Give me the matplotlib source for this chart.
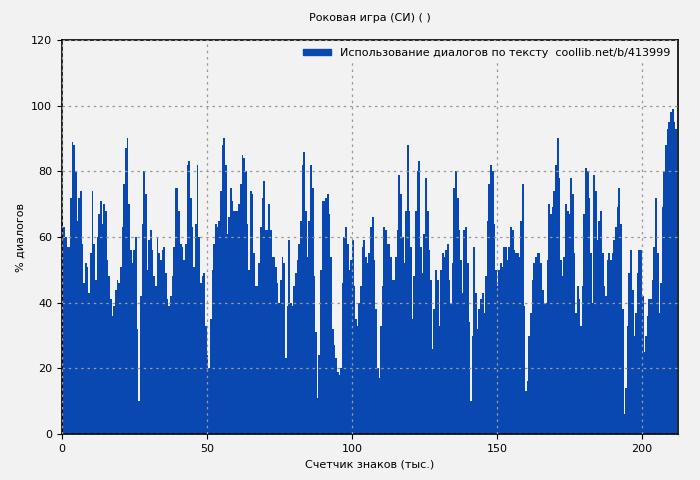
import numpy as np
import matplotlib
matplotlib.use("Agg")
import matplotlib.pyplot as plt
from matplotlib.patches import Patch

# values, segment by segment (each segment is a 110 px window)
seg1 = [66,63,60,57,57,72,89,88,80,65,72,74,58,46,52,51,43,55,74,58,47,60,67,71,64,70,68,53,48,41,36,39,44,47,46,51,63,76,87,90,70,56,52,56,60,32,10,42,64,80,73,50,59,62,56,48,45,60,55,53,56,57,49,41,39]
seg2 = [48,40,38,42,48,57,75,75,68,58,57,53,58,82,83,72,63,51,64,82,60,46,48,49,33,24,20,35,50,58,64,63,65,74,88,90,82,61,66,75,71,68,68,68,70,76,85,84,80,64,50,74,73,55,45,45,52,63,72,77,62,62,70,62,52,51]
seg3 = [56,54,54,51,46,40,47,54,52,23,39,59,40,39,45,49,53,58,65,82,86,68,54,65,82,75,48,31,11,24,50,71,71,72,73,67,54,32,27,23,19,18,20,46,60,63,58,50,53,59,45,35,33,40,45,57,59,54,52,55,63,66,53,38,20,16]
seg4 = [28,20,17,33,45,63,62,58,58,54,47,47,54,62,79,73,60,52,68,88,68,57,35,48,68,80,83,57,49,61,78,68,56,47,26,38,50,47,33,50,55,54,56,58,47,40,52,75,80,72,62,53,43,62,63,52,34,10,30,57,43,32,38,40,43,37]
seg5 = [41,38,37,48,65,76,82,80,64,50,45,50,52,51,57,57,53,57,63,62,56,55,55,54,65,76,39,13,16,30,37,47,52,54,55,55,52,44,40,40,53,70,67,69,74,82,90,78,53,48,54,70,68,67,78,73,55,37,45,41,33,45,67,80,80,72]
seg6 = [81,80,72,55,40,79,74,59,65,68,55,45,42,53,55,53,55,59,63,69,75,64,38,6,14,33,49,56,44,30,37,49,56,56,42,25,30,36,41,41,47,57,72,55,37,46,69,80,88,93,95,98,99,95,93]

segments = [(60, 5, seg1), (165, 0, seg2), (270, 0, seg3),
            (375, 0, seg4), (480, 0, seg5), (585, 0, seg6)]

xs, ys = [], []
for px0, z0, vals in segments:
    zx = z0 + 5 * np.arange(len(vals))
    xs.extend(((px0 + zx / 3.0) - 62) / 2.9)
    ys.extend(vals)
xs = np.array(xs); ys = np.array(ys)

blue = "#0848b0"
fig = plt.figure(figsize=(7, 4.8), dpi=100, facecolor="#f2f2f2")
ax = fig.add_axes([0.0886, 0.0958, 0.88, 0.8209], facecolor="#f2f2f2")
ax.bar(xs, ys, width=0.62, color=blue, align="edge", linewidth=0)
ax.set_xlim(0, 212.4)
ax.set_ylim(0, 120)
ax.set_xticks([0, 50, 100, 150, 200])
ax.set_yticks(range(0, 121, 20))
ax.grid(True, color="#999999", linestyle=(0, (2, 3)), linewidth=0.9)
ax.set_axisbelow(False)
for s in ax.spines.values():
    s.set_linewidth(1.2)
ax.tick_params(labelsize=8)
ax.set_xlabel("Счетчик знаков (тыс.)", fontsize=8)
ax.set_ylabel("% диалогов", fontsize=8)
ax.set_title("Роковая игра (СИ) ( )", fontsize=8, pad=14)
leg = ax.legend([Patch(color=blue)], ["Использование диалогов по тексту  coollib.net/b/413999"],
                loc="upper right", fontsize=8, frameon=True, handlelength=2.5, handleheight=0.5,
                borderaxespad=0.3)
leg.get_frame().set_facecolor("#f2f2f2")
leg.get_frame().set_edgecolor("none")
leg.get_frame().set_alpha(1)
leg.set_zorder(5)
fig.savefig("out.png", dpi=100, facecolor="#f2f2f2")
